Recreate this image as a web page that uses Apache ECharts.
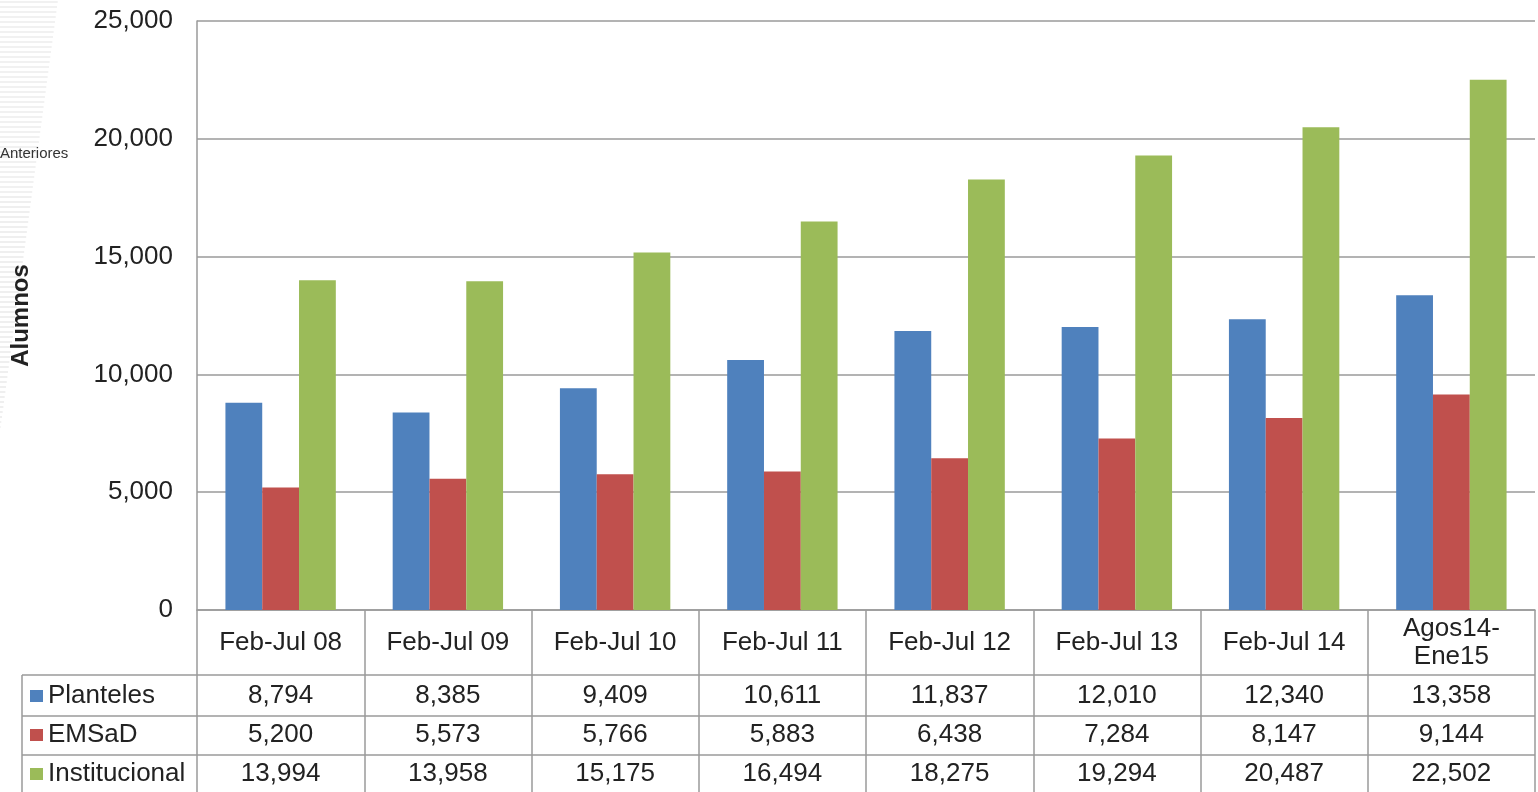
<!DOCTYPE html>
<html>
<head>
<meta charset="utf-8">
<script src="https://cdn.jsdelivr.net/npm/echarts@6/dist/echarts.min.js"></script>
<style>
  html, body { margin: 0; padding: 0; background: #fff; }
  #chart { width: 1538px; height: 792px; }
</style>
</head>
<body>
<div id="chart"></div>
<script>
// data
const categories = ['Feb-Jul 08', 'Feb-Jul 09', 'Feb-Jul 10', 'Feb-Jul 11', 'Feb-Jul 12', 'Feb-Jul 13', 'Feb-Jul 14', 'Agos14-\nEne15'];
const planteles = [8794, 8385, 9409, 10611, 11837, 12010, 12340, 13358];
const emsad = [5200, 5573, 5766, 5883, 6438, 7284, 8147, 9144];
const institucional = [13994, 13958, 15175, 16494, 18275, 19294, 20487, 22502];
const seriesNames = ['Planteles', 'EMSaD', 'Institucional'];
const colors = ['#4F81BD', '#C0504D', '#9BBB59'];

const font = 'Arial, "Liberation Sans", sans-serif';
const textColor = '#222';
const lineColor = '#9a9a9a';
const fontSize = 26;
const fmt = v => v.toLocaleString('en-US');

const chart = echarts.init(document.getElementById('chart'));

// faint striped decoration at the left edge
const stripes = [];
for (let y = 2; y < 432; y += 5) {
  const len = 58 - (y / 432) * 58;
  stripes.push({
    type: 'line',
    shape: { x1: 0, y1: y, x2: len, y2: y },
    style: { stroke: '#e4e4e4', lineWidth: 1.2 },
    silent: true
  });
}

// table rows: one extra bottom axis per series, labels show the values
const rowData = [planteles, emsad, institucional];
const rowMargins = [86, 125, 164];
const valueAxes = rowData.map((arr, i) => ({
  type: 'category',
  gridIndex: 0,
  position: 'bottom',
  data: categories,
  axisLine: { show: false },
  axisTick: { show: false },
  splitLine: { show: false },
  axisLabel: {
    interval: 0,
    margin: rowMargins[i],
    verticalAlign: 'middle',
    fontSize: fontSize,
    fontFamily: font,
    color: textColor,
    formatter: (val, idx) => fmt(arr[idx])
  }
}));

const tableTop = 675;
const rowLines = [675, 716, 755].map(y => ({
  type: 'line',
  shape: { x1: 22, y1: y, x2: 1535, y2: y },
  style: { stroke: lineColor, lineWidth: 1.5 },
  silent: true
}));

chart.setOption({
  animation: false,
  backgroundColor: '#fff',
  grid: { left: 197, right: 3, top: 21, bottom: 182, containLabel: false, outerBoundsMode: 'none' },
  legend: {
    orient: 'vertical',
    left: 30,
    top: 683,
    padding: 0,
    itemGap: 13,
    itemWidth: 13,
    itemHeight: 12,
    icon: 'rect',
    selectedMode: false,
    data: seriesNames,
    textStyle: { fontSize: fontSize, fontFamily: font, color: textColor, lineHeight: 26 }
  },
  xAxis: [{
    type: 'category',
    data: categories,
    axisLine: { show: true, lineStyle: { color: lineColor, width: 1.5 } },
    axisTick: { show: true, interval: 0, length: 182, lineStyle: { color: lineColor, width: 1.5 } },
    axisLabel: {
      interval: 0,
      margin: 33,
      verticalAlign: 'middle',
      fontSize: fontSize,
      lineHeight: 28,
      fontFamily: font,
      color: textColor
    }
  }].concat(valueAxes),
  yAxis: {
    type: 'value',
    min: 0,
    max: 25000,
    interval: 5000,
    name: 'Alumnos',
    nameLocation: 'middle',
    nameGap: 164,
    nameRotate: 90,
    nameTextStyle: { fontSize: 24, fontWeight: 'bold', fontFamily: font, color: textColor },
    axisLine: { show: true, lineStyle: { color: lineColor, width: 1.5 } },
    axisTick: { show: false },
    splitLine: { show: true, lineStyle: { color: lineColor, width: 1.5 } },
    axisLabel: {
      margin: 24,
      fontSize: fontSize,
      fontFamily: font,
      color: textColor,
      formatter: v => fmt(v)
    }
  },
  series: seriesNames.map((name, i) => ({
    name: name,
    type: 'bar',
    data: rowData[i],
    barGap: 0,
    barCategoryGap: '34%',
    itemStyle: { color: colors[i] }
  })),
  graphic: stripes.concat(rowLines, [
    {
      type: 'line',
      shape: { x1: 22, y1: tableTop, x2: 22, y2: 792 },
      style: { stroke: lineColor, lineWidth: 1.5 },
      silent: true
    },
    {
      type: 'text',
      left: 0,
      top: 146,
      style: { text: 'Anteriores', fontSize: 15, fontFamily: font, fill: '#333' },
      silent: true
    }
  ])
});
</script>
</body>
</html>
